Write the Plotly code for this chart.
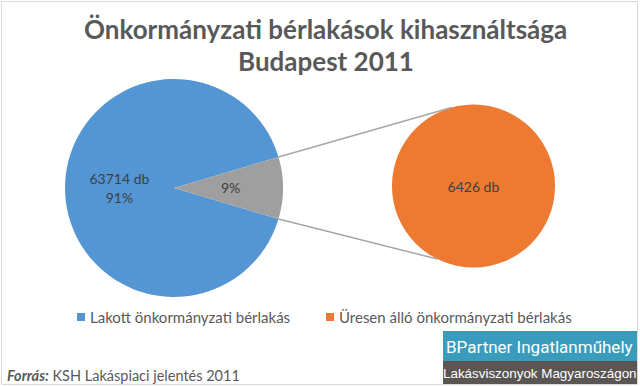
import math
import plotly.graph_objects as go

# ---------------- data ----------------
categories = ["Lakott önkormányzati bérlakás", "Üresen álló önkormányzati bérlakás"]
values = [63714, 6426]
second_labels = ["Üresen álló önkormányzati bérlakás"]
second_values = [6426]
title_lines = ["Önkormányzati bérlakások kihasználtsága", "Budapest 2011"]
source_bold = "Forrás:"
source_text = "KSH Lakáspiaci jelentés 2011"
logo_top = "BPartner Ingatlanműhely"
logo_bottom = "Lakásviszonyok Magyaroszágon"

# ---------------- styles ----------------
W, H = 640, 386
BLUE = "#5496d4"
GRAY = "#9f9f9f"
ORANGE = "#ed7a30"
TXT = "#595959"
LBL = "#404040"
FONT = "Lato"


def px(x):
    return x / W


def py(y):
    return 1 - y / H


# pie geometry (pixels)
L_CX, L_CY, L_R = 174, 188, 109
R_CX, R_CY, R_R = 473.5, 186, 81.5

total = sum(values)
share = values[1] / total
half = share * 180.0  # half-angle of the split slice in degrees
rotation = 90 + half

fig = go.Figure()

fig.add_trace(go.Pie(
    labels=categories,
    values=values,
    sort=False,
    direction="clockwise",
    rotation=rotation,
    marker=dict(colors=[BLUE, GRAY], line=dict(width=0)),
    texttemplate=["%{value:.0f} db<br>%{percent:.0%}", ""],
    textposition="inside",
    insidetextorientation="horizontal",
    textfont=dict(family=FONT, size=14, color=LBL),
    domain=dict(x=[px(L_CX - L_R), px(L_CX + L_R)], y=[py(L_CY + L_R), py(L_CY - L_R)]),
    hoverinfo="label+value+percent",
    showlegend=False,
))

fig.add_trace(go.Pie(
    labels=second_labels,
    values=second_values,
    sort=False,
    marker=dict(colors=[ORANGE], line=dict(width=0)),
    texttemplate="%{value:.0f} db",
    textposition="inside",
    insidetextorientation="horizontal",
    textfont=dict(family=FONT, size=14, color=LBL),
    domain=dict(x=[px(R_CX - R_R), px(R_CX + R_R)], y=[py(R_CY + R_R), py(R_CY - R_R)]),
    hoverinfo="label+value",
    showlegend=False,
))

shapes = []
annotations = []
# outer border
shapes.append(dict(type="rect", xref="paper", yref="paper",
                   x0=px(1.5), x1=px(637.5), y0=py(384.5), y1=py(1.5),
                   line=dict(color="#d9d9d9", width=1), fillcolor="rgba(0,0,0,0)", layer="below"))

# label of the split slice (placed along its mid-angle)
annotations.append(dict(xref="paper", yref="paper",
                        x=px(L_CX + 0.515 * L_R), y=py(L_CY),
                        xanchor="center", yanchor="middle", showarrow=False,
                        text="{:.0%}".format(share),
                        font=dict(family=FONT, size=14, color=LBL)))

# connector lines from split slice edges to second pie
top_start = (L_CX + L_R * math.cos(math.radians(half)), L_CY - L_R * math.sin(math.radians(half)))
bot_start = (L_CX + L_R * math.cos(math.radians(-half)), L_CY - L_R * math.sin(math.radians(-half)))
top_end = (R_CX + R_R * math.cos(math.radians(105.6)), R_CY - R_R * math.sin(math.radians(105.6)))
bot_end = (R_CX + R_R * math.cos(math.radians(243.7)), R_CY - R_R * math.sin(math.radians(243.7)))
for s, e in ((top_start, top_end), (bot_start, bot_end)):
    shapes.append(dict(type="line", xref="paper", yref="paper",
                       x0=px(s[0]), y0=py(s[1]), x1=px(e[0]), y1=py(e[1]),
                       line=dict(color="#a6a6a6", width=1.5)))

# legend markers
legend_items = [(77, categories[0], BLUE), (326, categories[1], ORANGE)]
for x0, name, col in legend_items:
    shapes.append(dict(type="rect", xref="paper", yref="paper",
                       x0=px(x0), x1=px(x0 + 8), y0=py(321), y1=py(313),
                       line=dict(width=0), fillcolor=col))
    annotations.append(dict(xref="paper", yref="paper", x=px(x0 + 11), y=py(317),
                            xanchor="left", yanchor="middle", showarrow=False,
                            text=name, font=dict(family=FONT, size=15, color=TXT)))

# logo boxes
shapes.append(dict(type="rect", xref="paper", yref="paper",
                   x0=px(443), x1=px(637), y0=py(361), y1=py(331),
                   line=dict(width=0), fillcolor="#3a9cbc"))
shapes.append(dict(type="rect", xref="paper", yref="paper",
                   x0=px(443), x1=px(637), y0=py(384), y1=py(361),
                   line=dict(width=0), fillcolor="#5a5654"))

annotations.append(dict(xref="paper", yref="paper", x=px(539), y=py(347),
                        xanchor="center", yanchor="middle", showarrow=False,
                        text=logo_top,
                        font=dict(family="Roboto", size=17, color="white")))
annotations.append(dict(xref="paper", yref="paper", x=px(540), y=py(373),
                        xanchor="center", yanchor="middle", showarrow=False,
                        text=logo_bottom,
                        font=dict(family="Liberation Sans", size=13.4, color="white")))

# title
annotations.append(dict(xref="paper", yref="paper", x=px(325), y=py(29),
                        xanchor="center", yanchor="middle", showarrow=False,
                        text="<b>" + title_lines[0] + "</b>",
                        font=dict(family=FONT, size=26, color=TXT)))
annotations.append(dict(xref="paper", yref="paper", x=px(326), y=py(61),
                        xanchor="center", yanchor="middle", showarrow=False,
                        text="<b>" + title_lines[1] + "</b>",
                        font=dict(family=FONT, size=26, color=TXT)))

# source
annotations.append(dict(xref="paper", yref="paper", x=px(5), y=py(375),
                        xanchor="left", yanchor="middle", showarrow=False,
                        text="<b><i>" + source_bold + "</i></b> " + source_text,
                        font=dict(family=FONT, size=14.5, color=TXT)))

fig.update_layout(
    width=W, height=H, autosize=False,
    margin=dict(l=0, r=0, t=0, b=0),
    paper_bgcolor="white", plot_bgcolor="white",
    showlegend=False,
    shapes=shapes,
    annotations=annotations,
)

fig.write_html("out.html", config={"displayModeBar": False},
               post_script="document.body.style.margin='0';document.body.style.overflow='hidden';")
